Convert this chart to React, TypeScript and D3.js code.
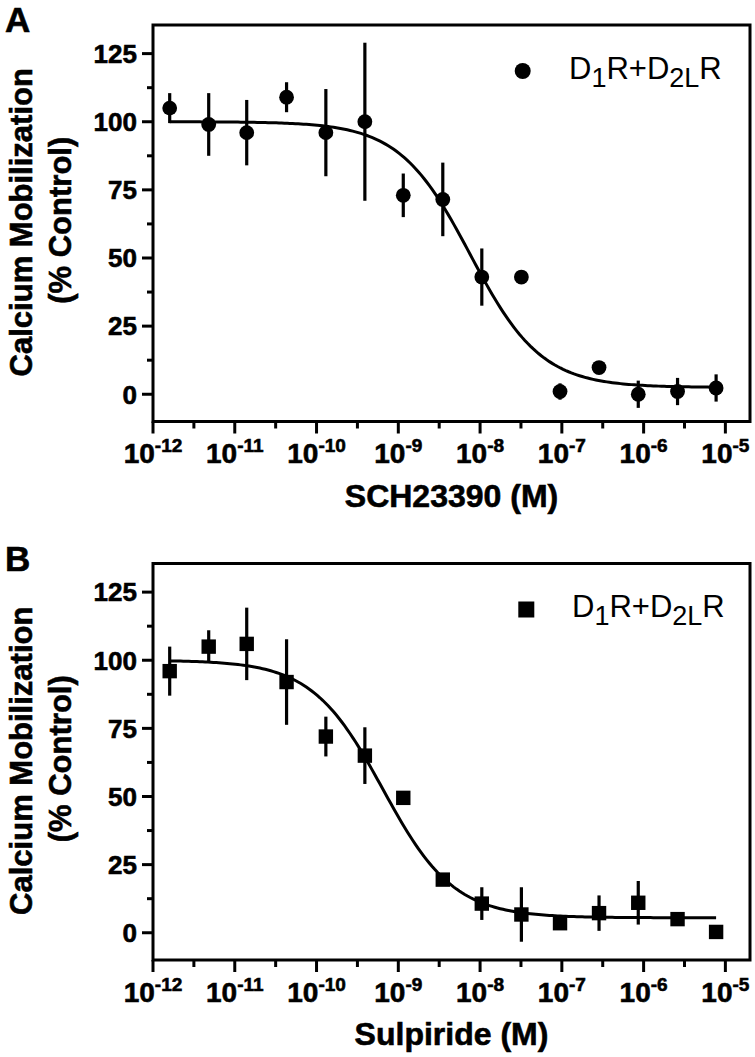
import React from "react";
import * as d3 from "d3";

// ---- Data ----
const concentrations = [
  1.6e-12, 4.8e-12, 1.4e-11, 4.3e-11, 1.3e-10, 3.9e-10, 1.15e-9, 3.5e-9,
  1.05e-8, 3.2e-8, 9.5e-8, 2.85e-7, 8.6e-7, 2.6e-6, 7.7e-6,
];
const responseA = [105, 99, 96, 109, 96, 100, 73, 71.5, 43, 43, 1, 9.8, 0, 1, 2.3];
const semA = [5.5, 11.5, 12, 5.5, 16, 29, 8, 13.5, 10.5, 0, 3, 0, 5, 5, 5];
const responseB = [96, 105, 106, 92, 72, 65, 49.5, 19.5, 10.7, 6.7, 3.5, 7.2, 11, 5, 0.3];
const semB = [9, 6, 13.3, 15.7, 7.3, 10.4, 0, 0, 6, 10, 0, 6.5, 8, 0, 0];

// four-parameter logistic fit parameters for the drawn curves
const fitA = { top: 100, bottom: 2.5, logIC50: -8.12, hill: 1 };
const fitB = { top: 100, bottom: 5.5, logIC50: -9.19, hill: 1 };

const yMajorTicks = [0, 25, 50, 75, 100, 125];
const yMinorTicks = [12.5, 37.5, 62.5, 87.5, 112.5];
const xMajorExponents = [-12, -11, -10, -9, -8, -7, -6, -5];
const xMinorExponents = [-11.5, -10.5, -9.5, -8.5, -7.5, -6.5, -5.5];

const FONT = "'Liberation Sans', Arial, Helvetica, sans-serif";
const HEAVY = { stroke: "#000", strokeWidth: 0.6 };

type Fit = { top: number; bottom: number; logIC50: number; hill: number };

function Panel(props: {
  offsetY: number;
  letter: string;
  values: number[];
  errors: number[];
  fit: Fit;
  marker: "circle" | "square";
  xTitle: string;
  legendX: number;
  textX: number;
}) {
  const { offsetY, letter, values, errors, fit, marker, xTitle, legendX, textX } = props;
  const left = 153;
  const right = 750;
  const top = 25 + offsetY;
  const bottom = 421.5 + offsetY;

  const x = d3.scaleLog().domain([1e-12, 2e-5]).range([left, right]);
  const y = d3.scaleLinear().domain([-10, 135.5]).range([bottom, top]);

  const lo = Math.log10(concentrations[0]);
  const hi = Math.log10(concentrations[concentrations.length - 1]);
  const curveX = d3.range(0, 201).map((i) => Math.pow(10, lo + ((hi - lo) * i) / 200));
  const model = (c: number) =>
    fit.bottom + (fit.top - fit.bottom) / (1 + Math.pow(10, (Math.log10(c) - fit.logIC50) * fit.hill));
  const line = d3
    .line<number>()
    .x((c) => x(c))
    .y((c) => y(model(c)));

  const yMid = (top + bottom) / 2 - 1;

  return (
    <g fontFamily={FONT}>
      {/* panel letter */}
      <text x={5} y={32 + offsetY} fontSize={35} fontWeight="bold" {...HEAVY}>
        {letter}
      </text>

      {/* y title */}
      <g transform={`translate(32,${yMid}) rotate(-90)`}>
        <text textAnchor="middle" fontSize={31} fontWeight="bold" {...HEAVY}>
          Calcium Mobilization
        </text>
      </g>
      <g transform={`translate(71,${yMid - 2}) rotate(-90)`}>
        <text textAnchor="middle" fontSize={31} fontWeight="bold" {...HEAVY}>
          (% Control)
        </text>
      </g>

      {/* frame */}
      <rect
        x={left}
        y={top}
        width={right - left}
        height={bottom - top}
        fill="none"
        stroke="#000"
        strokeWidth={3}
      />

      {/* y ticks */}
      {yMajorTicks.map((t) => (
        <g key={"ym" + t}>
          <line x1={left - 11} x2={left} y1={y(t)} y2={y(t)} stroke="#000" strokeWidth={3} />
          <text
            x={137}
            y={y(t) + 9.3}
            textAnchor="end"
            fontSize={26}
            fontWeight="bold"
            {...HEAVY}
          >
            {t}
          </text>
        </g>
      ))}
      {yMinorTicks.map((t) => (
        <line key={"yn" + t} x1={left - 6} x2={left} y1={y(t)} y2={y(t)} stroke="#000" strokeWidth={3} />
      ))}

      {/* x ticks */}
      {xMajorExponents.map((e) => {
        const px = x(Math.pow(10, e));
        return (
          <g key={"xm" + e}>
            <line x1={px} x2={px} y1={bottom} y2={bottom + 12} stroke="#000" strokeWidth={3} />
            <text
              x={px}
              y={bottom + 41.5}
              textAnchor="middle"
              fontWeight="bold"
              fontSize={28}
              {...HEAVY}
            >
              10
              <tspan fontSize={19} dy={-11}>
                {"-" + Math.abs(e)}
              </tspan>
            </text>
          </g>
        );
      })}
      {xMinorExponents.map((e) => {
        const px = x(Math.pow(10, e));
        return (
          <line key={"xn" + e} x1={px} x2={px} y1={bottom} y2={bottom + 7} stroke="#000" strokeWidth={3} />
        );
      })}

      {/* x title */}
      <text
        x={(left + right) / 2}
        y={bottom + 85}
        textAnchor="middle"
        fontSize={32}
        fontWeight="bold"
        {...HEAVY}
      >
        {xTitle}
      </text>

      {/* fitted curve */}
      <path d={line(curveX) || ""} fill="none" stroke="#000" strokeWidth={3} />

      {/* error bars */}
      {concentrations.map((c, i) =>
        errors[i] > 0 ? (
          <line
            key={"e" + i}
            x1={x(c)}
            x2={x(c)}
            y1={y(values[i] - errors[i])}
            y2={y(values[i] + errors[i])}
            stroke="#000"
            strokeWidth={3.2}
          />
        ) : null
      )}

      {/* markers */}
      {concentrations.map((c, i) =>
        marker === "circle" ? (
          <circle key={"m" + i} cx={x(c)} cy={y(values[i])} r={7.4} fill="#000" />
        ) : (
          <rect key={"m" + i} x={x(c) - 7.2} y={y(values[i]) - 7.2} width={14.4} height={14.4} fill="#000" />
        )
      )}

      {/* legend */}
      {marker === "circle" ? (
        <circle cx={legendX} cy={71 + offsetY} r={8} fill="#000" />
      ) : (
        <rect x={legendX - 8} y={63 + offsetY} width={16} height={16} fill="#000" />
      )}
      <text x={textX} y={78.5 + offsetY} fontSize={31}>
        D
        <tspan fontSize={27} dy={8}>
          1
        </tspan>
        <tspan dy={-8}>R+D</tspan>
        <tspan fontSize={27} dy={8}>
          2L
        </tspan>
        <tspan dy={-8}>R</tspan>
      </text>
    </g>
  );
}

export default function App() {
  return (
    <svg
      width={755}
      height={1057}
      viewBox="0 0 755 1057"
      style={{ position: "absolute", left: 0, top: 0, background: "#fff" }}
    >
      <rect x={0} y={0} width={755} height={1057} fill="#fff" />
      <Panel
        offsetY={0}
        letter="A"
        values={responseA}
        errors={semA}
        fit={fitA}
        marker="circle"
        xTitle="SCH23390 (M)"
        legendX={522.7}
        textX={569}
      />
      <Panel
        offsetY={538.5}
        letter="B"
        values={responseB}
        errors={semB}
        fit={fitB}
        marker="square"
        xTitle="Sulpiride (M)"
        legendX={526.3}
        textX={572}
      />
    </svg>
  );
}
